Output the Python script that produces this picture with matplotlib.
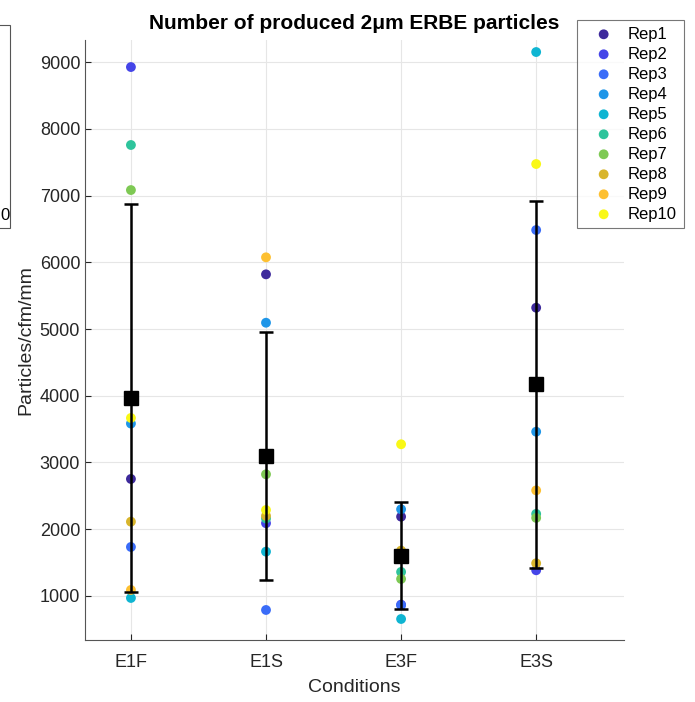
import numpy as np
import matplotlib.pyplot as plt
from matplotlib.patches import Rectangle

plt.rcParams['font.family'] = ['Liberation Sans', 'DejaVu Sans']

# =========================
# DATA
# =========================
conditions = ["E1F", "E1S", "E3F", "E3S"]
reps = ["Rep1", "Rep2", "Rep3", "Rep4", "Rep5", "Rep6", "Rep7", "Rep8", "Rep9", "Rep10"]

# particles/cfm/mm per replicate, one list per condition (Rep1..Rep10)
e1f = [2753, 8925, 1734, 3583, 970, 7757, 7082, 2113, 1090, 3667]
e1s = [5819, 2090, 790, 5094, 1664, 2160, 2823, 2200, 6074, 2288]
e3f = [2188, 870, 860, 2299, 655, 1360, 1255, 1680, 1600, 3273]
e3s = [5319, 1385, 6483, 3461, 9150, 2230, 2170, 1490, 2582, 7472]

rep_colors = ["#3e2a9c", "#4545e8", "#3a6cf8", "#1f96e8", "#0fb5d2",
              "#2ec49c", "#7ec954", "#d8b52c", "#fdc031", "#f9f816"]

data = np.array([e1f, e1s, e3f, e3s])
means = data.mean(axis=1)
stds = data.std(axis=1, ddof=1)
x = np.arange(1, len(conditions) + 1)

# =========================
# PLOT
# =========================
fig = plt.figure(figsize=(6.95, 7.02), dpi=100)
ax = fig.add_axes([0.1223, 0.0883, 0.7755, 0.8547])

for i, name in enumerate(reps):
    ax.scatter(x, data[:, i], s=50, color=rep_colors[i], label=name,
               zorder=3, edgecolors="none")

# mean +/- standard deviation
ax.errorbar(x, means, yerr=stds, fmt="s", color="black", ecolor="black",
            markersize=10, elinewidth=1.8, capsize=4.8, capthick=1.8, zorder=4)

ax.set_xlim(0.66, 4.65)
ax.set_ylim(340, 9330)
ax.set_xticks(x)
ax.set_xticklabels(conditions)
ax.set_yticks(np.arange(1000, 9001, 1000))
ax.tick_params(direction="in", labelsize=13, colors="#262626", length=4)
ax.tick_params(axis="x", pad=10)
ax.grid(True, color="#e6e6e6", linewidth=0.8)
ax.set_axisbelow(True)
for side in ["top", "right"]:
    ax.spines[side].set_visible(False)
for side in ["left", "bottom"]:
    ax.spines[side].set_color("#555555")

ax.set_title("Number of produced 2\u03bcm ERBE particles", fontsize=15,
             fontweight="bold", pad=8)
ax.set_xlabel("Conditions", fontsize=14, color="#262626", labelpad=6)
ax.set_ylabel("Particles/cfm/mm", fontsize=14, color="#262626")

leg = fig.legend(loc="upper left", bbox_to_anchor=(577 / 695, 1 - 20 / 702),
                 borderaxespad=0, fontsize=12, frameon=True, fancybox=False,
                 edgecolor="#555555", handletextpad=0.26, labelspacing=0.3,
                 borderpad=0.4, handlelength=2.4)
leg.get_frame().set_linewidth(0.8)

# edge of a neighbouring legend box
fig.patches.append(Rectangle((-20 / 695, 1 - 228 / 702), 30 / 695, 203 / 702,
                             transform=fig.transFigure, fill=False,
                             edgecolor="#555555", linewidth=0.8))
fig.text(0.5 / 695, 1 - 216 / 702, "0", ha="left", va="center", fontsize=12)

plt.savefig("out.png", dpi=100)
